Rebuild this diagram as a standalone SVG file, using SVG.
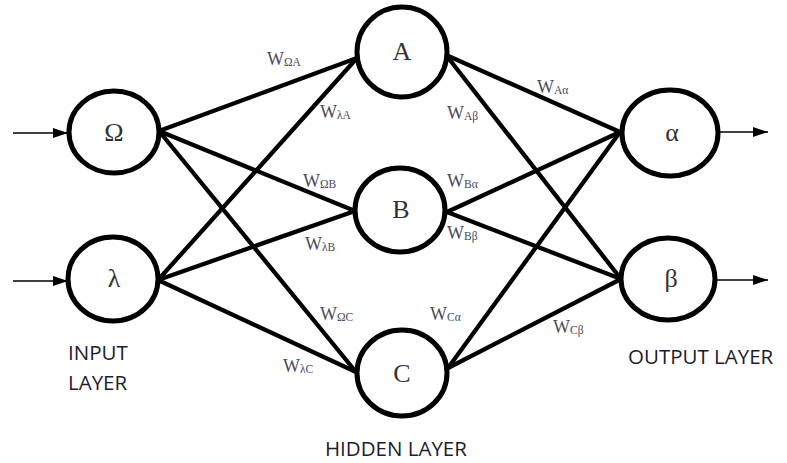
<svg xmlns="http://www.w3.org/2000/svg" width="787" height="463" viewBox="0 0 787 463">
<style>
.node{fill:#fff;stroke:#000;stroke-width:5}
.edge{stroke:#000;stroke-width:4.3;stroke-linecap:round}
.io{stroke:#000;stroke-width:1.5}
.nl{font-family:"Liberation Serif",serif;font-size:26px;fill:#333;text-anchor:middle}
.w{font-family:"Liberation Serif",serif;font-size:18px;fill:#4a4a58}
.s{font-size:11.5px}
.layer{font-family:"Open Sans",sans-serif;font-size:20.5px;fill:#1c1c2c}
</style>
<defs>
<marker id="ah" markerUnits="userSpaceOnUse" markerWidth="15" markerHeight="10" refX="15" refY="5" orient="auto">
<path d="M0,0 L15,5 L0,10 Z" fill="#000"/>
</marker>
</defs>
<g id="connectors">
<line class="edge" x1="159" y1="131" x2="357" y2="58"/>
<line class="edge" x1="159" y1="131" x2="355" y2="211"/>
<line class="edge" x1="159" y1="131" x2="356" y2="372"/>
<line class="edge" x1="158" y1="280" x2="357" y2="58"/>
<line class="edge" x1="158" y1="280" x2="355" y2="211"/>
<line class="edge" x1="158" y1="280" x2="356" y2="372"/>
<line class="edge" x1="446" y1="55" x2="620" y2="132"/>
<line class="edge" x1="446" y1="55" x2="621" y2="279"/>
<line class="edge" x1="447" y1="212" x2="620" y2="132"/>
<line class="edge" x1="447" y1="212" x2="621" y2="279"/>
<line class="edge" x1="448" y1="368" x2="620" y2="132"/>
<line class="edge" x1="448" y1="368" x2="621" y2="279"/>
<line class="io" x1="13" y1="133" x2="68" y2="133" marker-end="url(#ah)"/>
<line class="io" x1="13" y1="281" x2="68" y2="281" marker-end="url(#ah)"/>
<line class="io" x1="718" y1="132" x2="768" y2="132" marker-end="url(#ah)"/>
<line class="io" x1="715" y1="280" x2="768" y2="280" marker-end="url(#ah)"/>
</g>
<g id="labels">
<text class="w" x="267" y="65">W<tspan class="s" dy="1">ΩA</tspan></text>
<text class="w" x="320" y="118">W<tspan class="s" dy="1">λA</tspan></text>
<text class="w" x="303" y="187">W<tspan class="s" dy="1">ΩB</tspan></text>
<text class="w" x="305" y="250">W<tspan class="s" dy="1">λB</tspan></text>
<text class="w" x="320" y="320">W<tspan class="s" dy="1">ΩC</tspan></text>
<text class="w" x="283" y="372">W<tspan class="s" dy="1">λC</tspan></text>
<text class="w" x="537" y="93">W<tspan class="s" dy="1">Aα</tspan></text>
<text class="w" x="447" y="119">W<tspan class="s" dy="1">Aβ</tspan></text>
<text class="w" x="447" y="187">W<tspan class="s" dy="1">Bα</tspan></text>
<text class="w" x="447" y="239">W<tspan class="s" dy="1">Bβ</tspan></text>
<text class="w" x="430" y="320">W<tspan class="s" dy="1">Cα</tspan></text>
<text class="w" x="553" y="333">W<tspan class="s" dy="1">Cβ</tspan></text>
</g>
<g id="node-omega"><ellipse class="node" cx="114" cy="132" rx="45" ry="41"/><text class="nl" x="114" y="141">Ω</text></g>
<g id="node-lambda"><ellipse class="node" cx="113" cy="279" rx="45" ry="42"/><text class="nl" x="114" y="287">λ</text></g>
<g id="node-A"><ellipse class="node" cx="402" cy="52" rx="45" ry="45"/><text class="nl" x="402" y="60">A</text></g>
<g id="node-B"><ellipse class="node" cx="400" cy="210" rx="45" ry="42"/><text class="nl" x="401" y="218">B</text></g>
<g id="node-C"><ellipse class="node" cx="402" cy="373" rx="45" ry="43"/><text class="nl" x="402" y="382">C</text></g>
<g id="node-alpha"><ellipse class="node" cx="670" cy="133" rx="48" ry="43"/><text class="nl" x="672" y="141">α</text></g>
<g id="node-beta"><ellipse class="node" cx="668" cy="279" rx="47" ry="41"/><text class="nl" x="671" y="287">β</text></g>
<g id="layer-labels">
<text class="layer" x="68" y="360">INPUT</text>
<text class="layer" x="68" y="390">LAYER</text>
<text class="layer" x="628" y="364">OUTPUT LAYER</text>
<text class="layer" x="325" y="456">HIDDEN LAYER</text>
</g>
</svg>
